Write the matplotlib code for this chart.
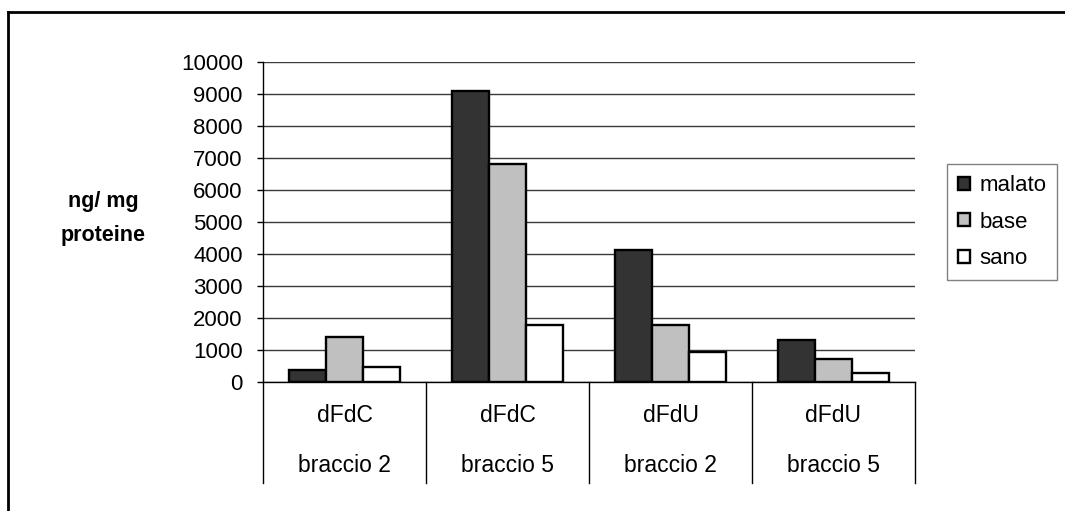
import matplotlib.pyplot as plt
import matplotlib.transforms as mtransforms
import numpy as np
from matplotlib.patches import Patch

farmaco = ["dFdC", "dFdC", "dFdU", "dFdU"]
braccio = ["braccio 2", "braccio 5", "braccio 2", "braccio 5"]
serie = ["malato", "base", "sano"]
malato = [380, 9080, 4110, 1300]
base = [1420, 6810, 1780, 730]
sano = [460, 1780, 930, 280]
colori = ["#333333", "#c0c0c0", "#ffffff"]

plt.rcParams["font.family"] = ["Liberation Sans", "DejaVu Sans"]

W, H = 1065, 511
fig = plt.figure(figsize=(W / 100, H / 100), dpi=100)
ax = fig.add_axes([263 / W, 1 - 382 / H, (915 - 263) / W, (382 - 62) / H])

x = np.arange(len(farmaco))
w = 0.225
for i, (vals, col, nome) in enumerate(zip([malato, base, sano], colori, serie)):
    ax.bar(x + (i - 1) * w, vals, width=w, color=col, edgecolor="black",
           linewidth=1.7, zorder=3, label=nome)

ax.set_xlim(-0.5, 3.5)
ax.set_ylim(0, 10000)
ax.set_yticks(np.arange(0, 10001, 1000))
ax.set_xticks([])
ax.yaxis.grid(True, color="#3a3a3a", linewidth=1.0)
ax.set_axisbelow(True)
ax.tick_params(axis="y", direction="out", length=4.5, width=1, pad=10,
               labelsize=16)
for s in ["top", "right"]:
    ax.spines[s].set_visible(False)
ax.spines["left"].set_linewidth(1)
ax.spines["bottom"].set_linewidth(1)

# two-level category axis (Excel style)
trans = mtransforms.blended_transform_factory(ax.transData, ax.transAxes)
bottom = -(483 - 382) / 320
for b in np.arange(-0.5, 4, 1.0):
    ax.plot([b, b], [0, bottom], color="black", linewidth=1,
            transform=trans, clip_on=False)
for xi, f, br in zip(x, farmaco, braccio):
    ax.text(xi, -(415 - 382) / 320, f, transform=trans, ha="center",
            va="center", fontsize=16.5)
    ax.text(xi, -(465 - 382) / 320, br, transform=trans, ha="center",
            va="center", fontsize=16.5)

fig.text(103 / W, 1 - 202 / H, "ng/ mg", ha="center", va="center",
         fontsize=15.5, fontweight="bold")
fig.text(103 / W, 1 - 235 / H, "proteine", ha="center", va="center",
         fontsize=15.5, fontweight="bold")

handles = [Patch(facecolor=c, edgecolor="black", linewidth=1.7) for c in colori]
leg = fig.legend(handles, serie, loc="upper left",
                 bbox_to_anchor=(947 / W, 1 - 164 / H), borderaxespad=0,
                 fontsize=16, handlelength=0.55, handleheight=0.55,
                 handletextpad=0.4, labelspacing=0.7, borderpad=0.5,
                 fancybox=False, edgecolor="#808080", framealpha=1)
leg.get_frame().set_linewidth(1)

# outer chart frame
fig.add_artist(plt.Line2D([8 / W, 8 / W], [0, 1 - 12 / H], color="black",
                          linewidth=2, transform=fig.transFigure))
fig.add_artist(plt.Line2D([8 / W, 1], [1 - 12 / H, 1 - 12 / H], color="black",
                          linewidth=2, transform=fig.transFigure))

fig.savefig("out.png", dpi=100)
